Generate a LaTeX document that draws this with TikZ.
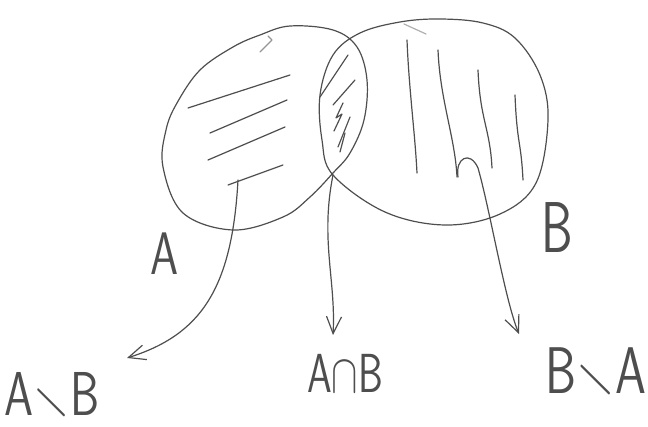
\RequirePackage{fix-cm}
\documentclass[tikz,border=0pt]{standalone}
\usepackage{amssymb}
\usepackage{graphicx}
\usepackage{tikz}
\usetikzlibrary{arrows.meta}
\definecolor{pencil}{HTML}{4E4E4E}
\newcommand{\handset}[2]{\scalebox{#1}[1]{#2}}

\begin{document}
\begin{tikzpicture}[x=1pt, y=-1pt,
  stroke/.style={pencil, line width=1.2pt, line cap=round, line join=round},
  pointer/.style={stroke, -{Straight Barb[length=17pt,width=15pt]}},
  setlabel/.style={text=pencil, inner sep=0pt, anchor=base}]
  \useasboundingbox (0,0) rectangle (648,427);
  % the two sets
  \draw[stroke] plot[smooth cycle, tension=0.6] coordinates {
    (333,173) (310,197) (283,217) (233,230) (183,213) (163,167) (166,130)
    (177,103) (200,70) (233,47) (260,35) (290,26) (333,30) (357,47)
    (367,80) (364,120) (350,153)};
  \draw[stroke] plot[smooth cycle, tension=0.6] coordinates {
    (333,175) (322,140) (320,95) (333,55) (360,33) (400,22) (440,19)
    (483,23) (515,38) (540,75) (548,120) (536,183) (500,214) (445,225)
    (385,212)};
  \draw[stroke, pencil!60] (260,52) -- (272,40) -- (268,36);
  \draw[stroke, pencil!45] (404,24) -- (426,34);
  % hatching
  \foreach \xa/\ya/\xb/\yb in {188/108/290/75, 210/133/287/100, 208/160/285/127, 228/185/283/165}
    \draw[stroke] (\xa,\ya) -- (\xb,\yb);
  \foreach \xa/\ya/\xb/\yb in {407/40/417/173, 438/50/457/177, 478/70/492/168, 515/95/523/180}
    \draw[stroke] (\xa,\ya) .. controls (\xa+2,\ya+50) and (\xb-2,\yb-40) .. (\xb,\yb);
  \foreach \xa/\ya/\xb/\yb in {348/55/320/97, 355/80/333/105, 350/117/338/147, 345/133/340/152}
    \draw[stroke] (\xa,\ya) -- (\xb,\yb);
  \draw[stroke] (343,103) -- (336,118) -- (342,114) -- (334,131);
  % where the arrows start and end
  \coordinate (fromA) at (238,180);
  \coordinate (toA) at (127,358);
  \coordinate (fromAB) at (333,175);
  \coordinate (toAB) at (333,335);
  \coordinate (fromB) at (458,177);
  \coordinate (hookB) at (478,168);
  \coordinate (toB) at (519,334);
  \draw[pointer] (fromA) .. controls (232,290) and (200,335) .. (toA);
  \draw[pointer] (fromAB) .. controls (320,240) and (336,280) .. (toAB);
  \draw[pointer] (fromB) .. controls (455,158) and (470,150) .. (hookB)
    .. controls (490,210) and (505,300) .. (toB);
  % labels
  \node[setlabel, font=\sffamily\fontsize{60}{60}\selectfont] (labA) at (165,275) {\handset{0.75}{A}};
  \node[setlabel, font=\sffamily\fontsize{72}{72}\selectfont] (labB) at (557,253) {\handset{0.7}{B}};
  \node[setlabel, font=\sffamily\fontsize{62}{62}\selectfont] (labAminusB) at (52,416) {\handset{0.75}{A$\smallsetminus$B}};
  \node[setlabel, font=\sffamily\fontsize{55}{55}\selectfont] (labAcapB) at (345,393) {\handset{0.72}{A$\cap$B}};
  \node[setlabel, font=\sffamily\fontsize{66}{66}\selectfont] (labBminusA) at (596,394) {\handset{0.75}{B$\smallsetminus$A}};
\end{tikzpicture}
\end{document}
